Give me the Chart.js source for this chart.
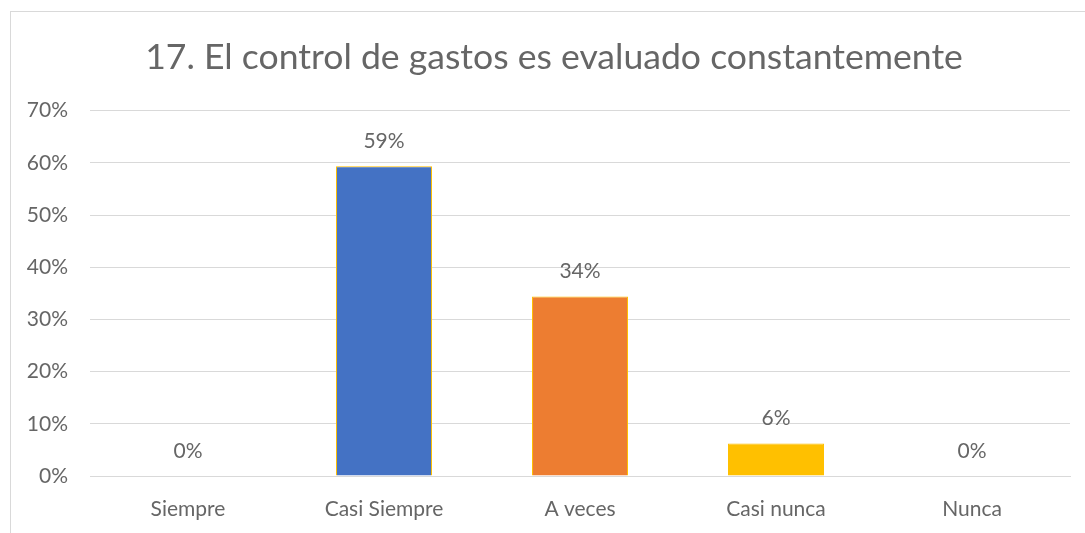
<!DOCTYPE html>
<html>
<head>
<meta charset="utf-8">
<script src="https://cdn.jsdelivr.net/npm/chart.js@4/dist/chart.umd.min.js"></script>
<style>
  html, body { margin: 0; padding: 0; background: #fff; overflow: hidden; }
  #marco { position: absolute; left: 10px; top: 11px; width: 1100px; height: 600px; border: 1px solid #d9d9d9; }
  #lienzo { position: absolute; left: 0; top: 0; width: 1085px; height: 533px; }
</style>
</head>
<body>
<div id="marco"></div>
<div id="lienzo"><canvas id="grafico"></canvas></div>
<script>
// datos de la pregunta 17
const titulo = "17. El control de gastos es evaluado constantemente";
const categorias = ["Siempre", "Casi Siempre", "A veces", "Casi nunca", "Nunca"];
const porcentajes = [0, 59.375, 34.375, 6.25, 0];
const etiquetasEje = [0, 10, 20, 30, 40, 50, 60, 70];

const colores = ["#4472C4", "#4472C4", "#ED7D31", "#FFC000", "#A5A5A5"];
const gris = "#666666";
const fuente = "Lato, 'Open Sans', sans-serif";

// etiquetas de valor encima de cada barra
const etiquetasValor = {
  id: "etiquetasValor",
  afterDatasetsDraw(chart) {
    const ctx = chart.ctx;
    const meta = chart.getDatasetMeta(0);
    ctx.save();
    ctx.fillStyle = gris;
    ctx.font = "21px " + fuente;
    ctx.textAlign = "center";
    ctx.textBaseline = "middle";
    meta.data.forEach(function(barra, i) {
      ctx.fillText(Math.round(porcentajes[i]) + "%", barra.x, barra.y - 25);
    });
    ctx.restore();
  }
};

new Chart(document.getElementById("grafico"), {
  type: "bar",
  data: {
    labels: categorias,
    datasets: [{
      data: porcentajes,
      backgroundColor: colores,
      borderColor: "#FFC000",
      borderWidth: 1,
      categoryPercentage: 1,
      barPercentage: 0.49
    }]
  },
  options: {
    responsive: true,
    maintainAspectRatio: false,
    animation: false,
    layout: { padding: { left: 23, right: 0, top: 0, bottom: 12 } },
    plugins: {
      legend: { display: false },
      tooltip: { enabled: false },
      title: {
        display: true,
        text: titulo,
        color: gris,
        font: { family: fuente, size: 35.6, weight: "normal", lineHeight: 1.2 },
        padding: { top: 36, bottom: 32 }
      }
    },
    scales: {
      x: {
        grid: { display: false, drawTicks: false },
        border: { display: true, color: "#d9d9d9" },
        ticks: { color: gris, font: { family: fuente, size: 21 }, padding: 21 },
        afterFit(scale) { scale.height = 45; }
      },
      y: {
        min: 0,
        max: 70,
        afterBuildTicks(scale) { scale.ticks = etiquetasEje.map(v => ({ value: v })); },
        grid: { color: "#d9d9d9", drawTicks: false },
        border: { display: false },
        ticks: {
          color: gris,
          font: { family: fuente, size: 21 },
          padding: 22,
          callback: v => v + "%"
        },
        afterFit(scale) { scale.width = 67; }
      },
      // margen derecho vacio para que el titulo quede centrado como en el original
      margen: {
        type: "linear",
        position: "right",
        grid: { display: false, drawTicks: false },
        border: { display: false },
        ticks: { display: false },
        afterFit(scale) { scale.width = 15; }
      }
    }
  },
  plugins: [etiquetasValor]
});
</script>
</body>
</html>
